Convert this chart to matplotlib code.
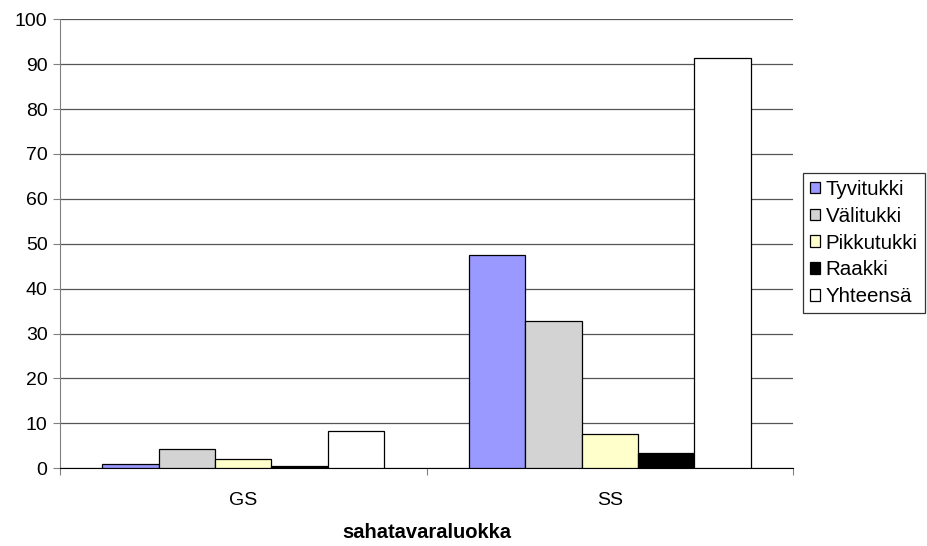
import numpy as np
import matplotlib.pyplot as plt
from matplotlib.ticker import FixedLocator, NullFormatter

plt.rcParams['font.family'] = ['Liberation Sans', 'DejaVu Sans']

# === DATA ===
categories = ["GS", "SS"]
series_names = ["Tyvitukki", "Välitukki", "Pikkutukki", "Raakki", "Yhteensä"]
series_values = [
    [1.0, 47.6],   # Tyvitukki
    [4.4, 32.9],   # Välitukki
    [2.1, 7.7],    # Pikkutukki
    [0.6, 3.3],    # Raakki
    [8.2, 91.4],   # Yhteensä
]
series_colors = ["#9999FF", "#D3D3D3", "#FFFFCC", "#000000", "#FFFFFF"]
y_ticks = list(range(0, 101, 10))

FS = 14

# === PLOT ===
fig = plt.figure(figsize=(9.28, 5.46), dpi=100)
ax = fig.add_axes([0.0647, 0.1423, 0.7898, 0.8224])

n = len(series_names)
bar_w = 1 / (n + 1.5)          # gap of 1.5 bar widths between groups
centers = np.arange(len(categories)) + 0.5

for i, (name, vals, col) in enumerate(zip(series_names, series_values, series_colors)):
    ax.bar(centers + (i - (n - 1) / 2) * bar_w, vals, width=bar_w,
           color=col, edgecolor="black", linewidth=0.9, label=name, zorder=3)

ax.set_xlim(0, len(categories))
ax.set_ylim(0, 100)
ax.set_yticks(y_ticks)
ax.yaxis.grid(True, color="#555555", linewidth=0.9, zorder=0)

# category boundaries as ticks, labels in the middle
ax.xaxis.set_major_locator(FixedLocator(np.arange(len(categories) + 1)))
ax.xaxis.set_major_formatter(NullFormatter())
ax.xaxis.set_minor_locator(FixedLocator(centers))
ax.set_xticklabels(categories, minor=True)
ax.tick_params(axis="x", which="minor", length=0, pad=17, labelsize=FS)
ax.tick_params(axis="x", which="major", length=5, color="#808080", direction="out")
ax.tick_params(axis="y", length=5, color="#808080", labelsize=FS, pad=4)

for side in ("top", "right"):
    ax.spines[side].set_visible(False)
ax.spines["left"].set_color("#808080")
ax.spines["bottom"].set_color("black")

ax.set_xlabel("sahatavaraluokka", fontsize=14.5, fontweight="bold", labelpad=10)

leg = ax.legend(loc="upper left", bbox_to_anchor=(0.8653, 0.6837),
                bbox_transform=fig.transFigure, borderaxespad=0,
                fontsize=14.8, frameon=True, fancybox=False,
                handlelength=0.5, handleheight=0.5, handletextpad=0.25,
                labelspacing=0.38, borderpad=0.35)
leg.get_frame().set_edgecolor("black")
leg.get_frame().set_linewidth(0.9)

fig.savefig("out.png", dpi=100)
